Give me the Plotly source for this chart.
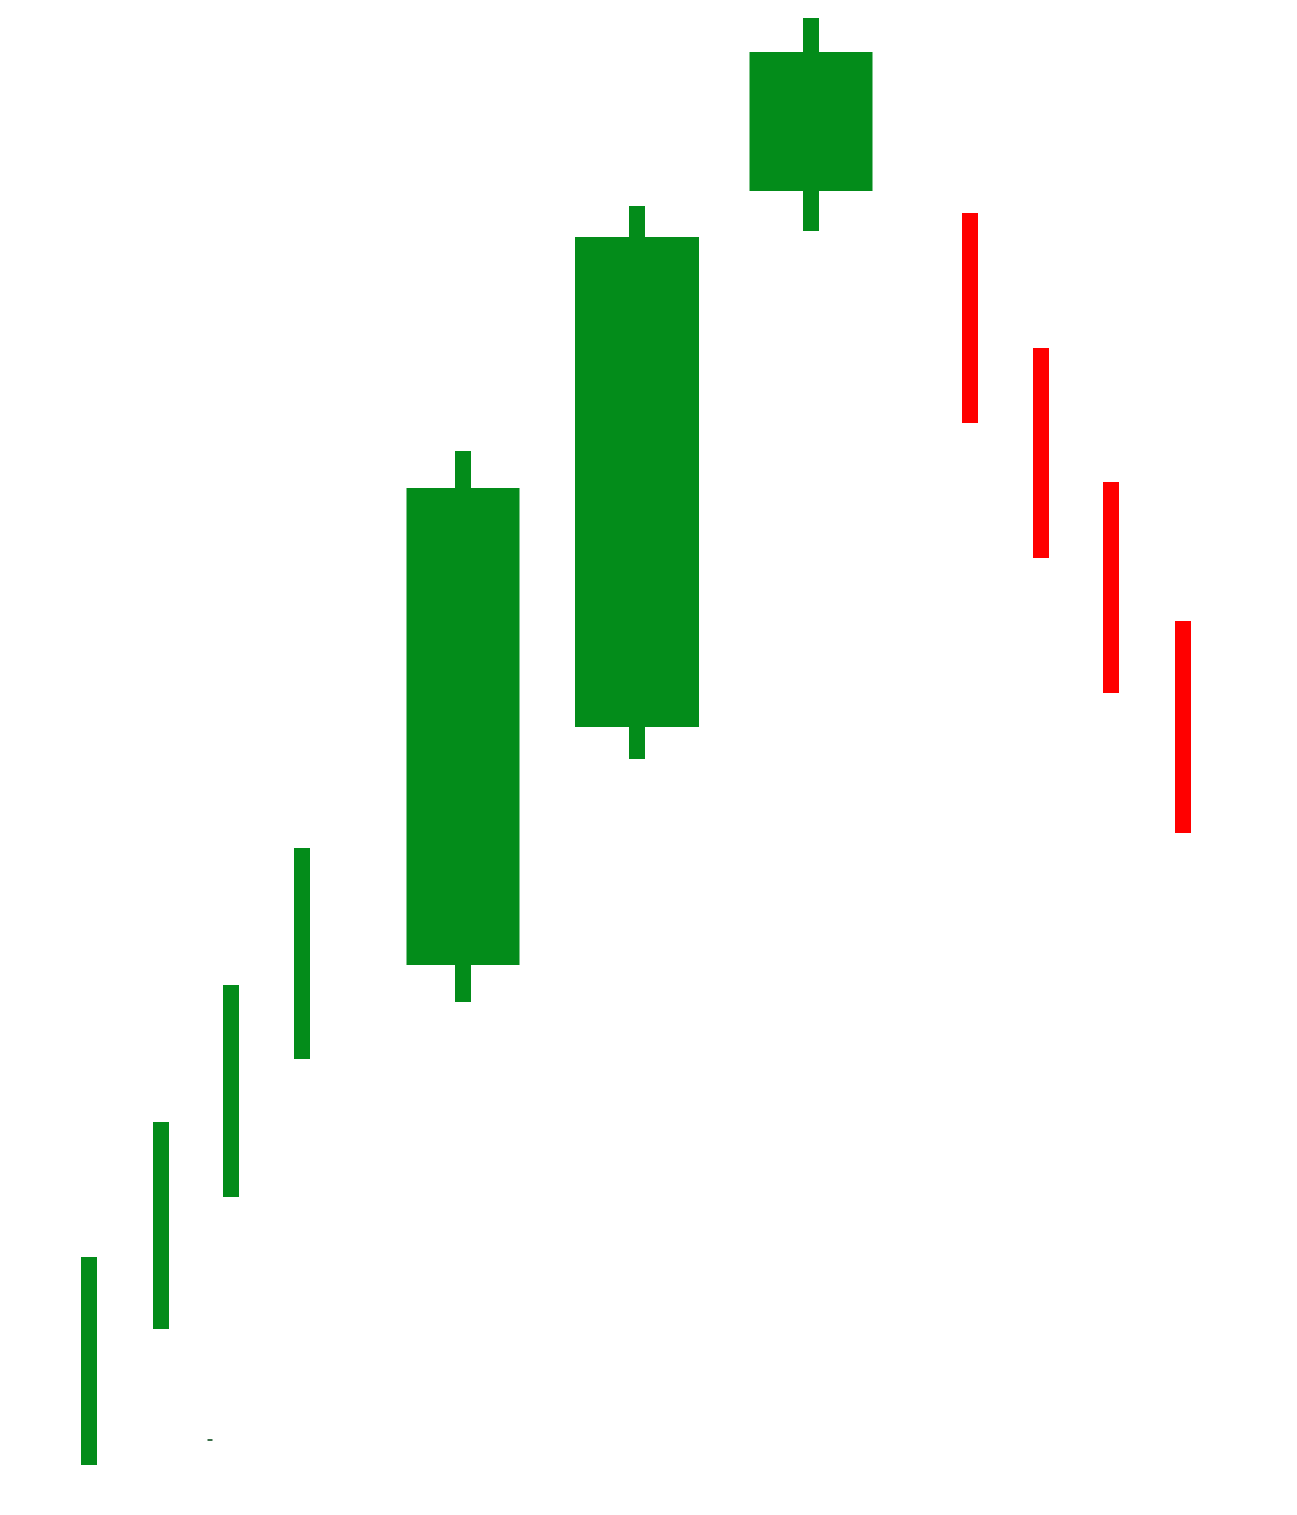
import plotly.graph_objects as go

# candles, left to right (price units: bottom of picture = 0)
x_pos = [89, 161, 231, 302, 463, 637, 811, 970, 1041, 1111, 1183]
highs = [258, 393, 530, 667, 1064, 1309, 1497, 1302, 1167, 1033, 894]
lows = [50, 186, 318, 456, 513, 756, 1284, 1092, 957, 822, 682]
opens = [50, 186, 318, 456, 550, 788, 1324, 1302, 1167, 1033, 894]
closes = [258, 393, 530, 667, 1027, 1278, 1463, 1092, 957, 822, 682]
body_w = [15, 15, 15, 15, 113, 124, 123, 16, 16, 15, 16]

GREEN = "#038C1A"
RED = "#FF0000"

colors = [GREEN if c >= o else RED for o, c in zip(opens, closes)]

fig = go.Figure()

# wicks
fig.add_trace(go.Bar(
    x=x_pos,
    y=[h - l for h, l in zip(highs, lows)],
    base=lows,
    width=16,
    marker=dict(color=colors, line=dict(width=0)),
    hoverinfo="skip",
))

# bodies
fig.add_trace(go.Bar(
    x=x_pos,
    y=[abs(c - o) for o, c in zip(opens, closes)],
    base=[min(o, c) for o, c in zip(opens, closes)],
    width=body_w,
    marker=dict(color=colors, line=dict(width=0)),
    hoverinfo="skip",
))

# the little stray dash near the bottom
fig.add_trace(go.Bar(
    x=[210], y=[2], base=[74], width=5,
    marker=dict(color="#3a6e48", line=dict(width=0)),
    hoverinfo="skip",
))

# page body has an 8px margin, so the ranges are nudged to line up
fig.update_layout(
    width=1297,
    height=1515,
    margin=dict(l=0, r=0, t=0, b=0),
    paper_bgcolor="white",
    plot_bgcolor="white",
    showlegend=False,
    barmode="overlay",
    xaxis=dict(range=[8, 1305], visible=False, fixedrange=True),
    yaxis=dict(range=[-8, 1507], visible=False, fixedrange=True),
)

fig.write_html("out.html", config={"displayModeBar": False})
